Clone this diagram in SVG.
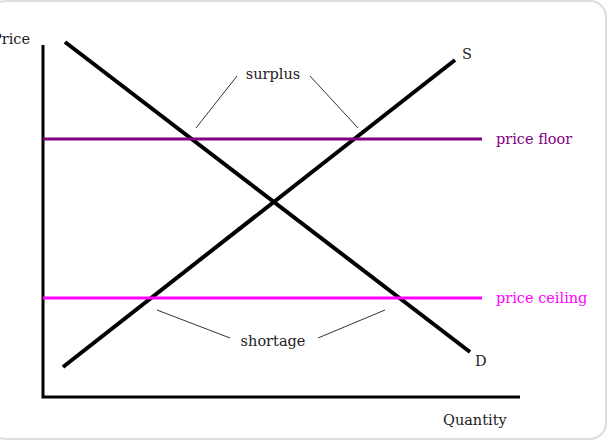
<svg xmlns="http://www.w3.org/2000/svg" width="608" height="441" viewBox="0 0 608 441">
<style>
text{font-family:"DejaVu Serif","Liberation Serif",serif;font-size:14.5px;fill:#222}
.ax{stroke:#000;stroke-width:3;fill:none}
.cv{stroke:#000;stroke-width:4;fill:none}
.lb{stroke:#333;stroke-width:1;fill:none}
</style>
<rect x="-10" y="1" width="616" height="438" rx="16" fill="#fff" stroke="#ddd" stroke-width="2"/>
<g id="axes">
<path class="ax" d="M43,45 V397 H520"/>
<text x="-8" y="44">Price</text>
<text x="443" y="425">Quantity</text>
</g>
<g id="connectors">
<line class="cv" x1="65" y1="42" x2="470" y2="352"/>
<line class="cv" x1="63" y1="367" x2="455" y2="60"/>
<line x1="43" y1="139" x2="482" y2="139" stroke="#800080" stroke-width="3"/>
<line x1="43" y1="298" x2="482" y2="298" stroke="#ff00ff" stroke-width="3"/>
<path class="lb" d="M237,76 L196,128 M310,76 L358,128 M157,310 L230,338 M385,310 L318,338"/>
</g>
<g id="labels">
<text x="462" y="59">S</text>
<text x="475" y="366">D</text>
<text x="273" y="79" text-anchor="middle">surplus</text>
<text x="273" y="346" text-anchor="middle">shortage</text>
<text x="496" y="144" style="fill:#800080">price floor</text>
<text x="496" y="303" style="fill:#ff00ff">price ceiling</text>
</g>
</svg>
